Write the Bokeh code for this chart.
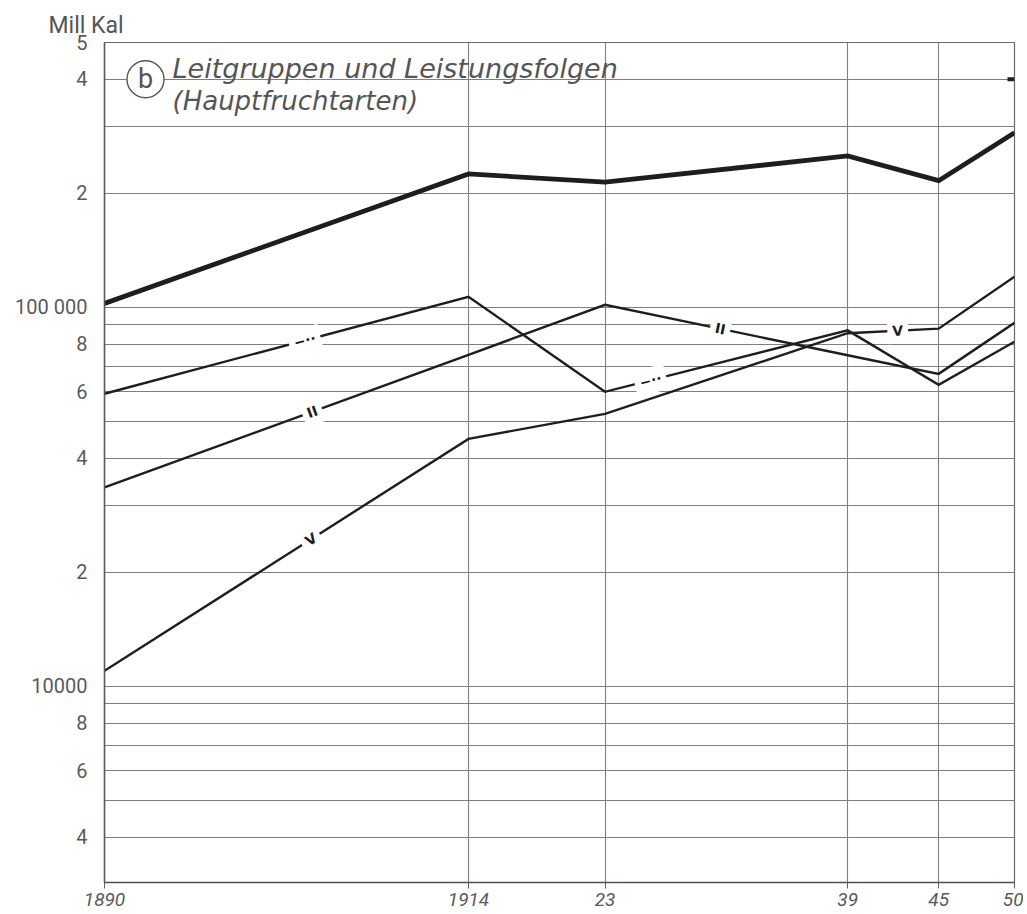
import math
import numpy as np
from bokeh.plotting import figure
from bokeh.models import Range1d, FixedTicker, Label
from bokeh.core.properties import value
from bokeh.embed import file_html
from bokeh.resources import INLINE

# ---------------- data ----------------
years = [1890, 1914, 1923, 1939, 1945, 1950]
x_tick_labels = ["1890", "1914", "23", "39", "45", "50"]

total_main = [102500, 225000, 214000, 251000, 216000, 289000]   # thick line
series_dd = [59200, 106700, 59900, 87000, 62500, 81200]         # "-··"
series_ii = [33500, 75000, 101600, 74800, 66800, 91100]         # "II"
series_v = [11000, 45000, 52400, 85500, 87900, 120500]          # "V"

marker_value = 400000  # small dash at the right edge

y_major = [4000, 6000, 8000, 10000, 20000, 40000, 60000, 80000, 100000, 200000, 400000, 500000]
y_major_labels = ["4", "6", "8", "10000", "2", "4", "6", "8", "100 000", "2", "4", "5"]
y_grid = [4000, 5000, 6000, 7000, 8000, 9000, 10000,
          20000, 30000, 40000, 50000, 60000, 70000, 80000, 90000, 100000,
          200000, 300000, 400000]
x_grid = [1914, 1923, 1939, 1945]

# ---------------- layout ----------------
X0, X1 = 1890, 1950
Y0, Y1 = 3040, 500000
W, H = 1023, 912
BL, BR, BT, BB = 104, 9, 42, 30
FW, FH = W - BL - BR, H - BT - BB
PX_YR = FW / (X1 - X0)
PX_DEC = FH / math.log10(Y1 / Y0)

GRID = "#7f7f7f"
INK = "#1e1e1e"
TXT = "#5a5a5a"

p = figure(width=W, height=H, x_range=Range1d(X0, X1), y_range=Range1d(Y0, Y1),
           y_axis_type="log", output_backend="svg", toolbar_location=None,
           min_border_left=BL, min_border_right=BR, min_border_top=BT, min_border_bottom=BB)
p.background_fill_color = "white"
p.border_fill_color = "white"
p.outline_line_color = "#6a6a6a"
p.outline_line_width = 1.2

# "Mill Kal" unit caption as the figure title
p.title.text = "Mill Kal"
p.title.align = "left"
p.title.offset = -56
p.title.standoff = 8
p.title.text_font = "Roboto"
p.title.text_font_style = "normal"
p.title.text_font_size = "23px"
p.title.text_color = "#555555"

# grids
p.ygrid.ticker = FixedTicker(ticks=y_grid)
p.ygrid.grid_line_color = GRID
p.ygrid.grid_line_width = 1.1
p.xgrid.ticker = FixedTicker(ticks=x_grid)
p.xgrid.grid_line_color = GRID
p.xgrid.grid_line_width = 1.1

# y axis
ya = p.yaxis[0]
ya.ticker = FixedTicker(ticks=y_major, minor_ticks=[])
ya.major_label_overrides = {v: s for v, s in zip(y_major, y_major_labels)}
ya.major_tick_out = 0
ya.major_tick_in = 0
ya.minor_tick_out = 0
ya.minor_tick_in = 0
ya.axis_line_color = "#5a5a5a"
ya.axis_line_width = 1.5
ya.major_label_standoff = 17
ya.major_label_text_font = "Roboto"
ya.major_label_text_font_size = "20px"
ya.major_label_text_color = TXT

# x axis
xa = p.xaxis[0]
xa.ticker = FixedTicker(ticks=years, minor_ticks=[])
xa.major_label_overrides = {v: s for v, s in zip(years, x_tick_labels)}
xa.major_tick_out = 6
xa.major_tick_in = 0
xa.major_tick_line_color = "#606060"
xa.axis_line_color = "#505050"
xa.axis_line_width = 1.5
xa.major_label_standoff = 4
xa.major_label_text_font = "Roboto"
xa.major_label_text_font_style = "italic"
xa.major_label_text_font_size = "19px"
xa.major_label_text_color = TXT

# ---------------- lines ----------------
p.line(years, total_main, line_color=INK, line_width=4.8, line_join="miter")
for s in (series_dd, series_ii, series_v):
    p.line(years, s, line_color=INK, line_width=2.4, line_join="miter")

# small dash at right edge
dash_len_yr = 7 / PX_YR
p.segment(x0=[X1 - dash_len_yr], y0=[marker_value], x1=[X1], y1=[marker_value],
          line_color=INK, line_width=4)

# ---------------- series marks on the lines ----------------
def place(xs, vs, xl):
    lv = np.log10(vs)
    yl = 10 ** np.interp(xl, xs, lv)
    i = max(0, min(len(xs) - 2, int(np.searchsorted(xs, xl) - 1)))
    slope = ((lv[i + 1] - lv[i]) * PX_DEC) / ((xs[i + 1] - xs[i]) * PX_YR)
    return yl, math.atan(slope)

marks = [
    (series_dd, [1903.2, 1926.0], "−··"),
    (series_ii, [1903.7, 1930.6], "II"),
    (series_v, [1903.6, 1942.3], "V"),
]
mx, my, mt, ma = [], [], [], []
for s, xls, txt in marks:
    for xl in xls:
        yl, ang = place(years, s, xl)
        mx.append(xl); my.append(yl); mt.append(txt); ma.append(ang)

p.text(x=mx, y=my, text=mt, angle=ma, text_align="center", text_baseline="middle",
       text_font=value("DejaVu Sans"), text_font_style="bold", text_font_size="14px",
       text_color=INK, background_fill_color="white", padding=5)

# ---------------- title block ----------------
circ_x = X0 + 41 / PX_YR
p.scatter(x=[circ_x], y=[marker_value], marker="circle", size=37,
          fill_color="white", line_color="#555555", line_width=1.4)
p.text(x=[circ_x], y=[marker_value], text=["b"], text_align="center", text_baseline="middle",
       text_font=value("Roboto"), text_font_size="27px", text_color="#555555")

p.add_layout(Label(x=X0, y=marker_value, x_offset=68, y_offset=11,
                   text="Leitgruppen und Leistungsfolgen", text_baseline="alphabetic",
                   text_font="DejaVu Sans", text_font_style="italic", text_font_size="27px",
                   text_color="#555555"))
p.add_layout(Label(x=X0, y=marker_value, x_offset=68, y_offset=-7, text_baseline="top",
                   text="(Hauptfruchtarten)",
                   text_font="DejaVu Sans", text_font_style="italic", text_font_size="26px",
                   text_color="#555555"))

open("out.html", "w").write(file_html(p, INLINE))
